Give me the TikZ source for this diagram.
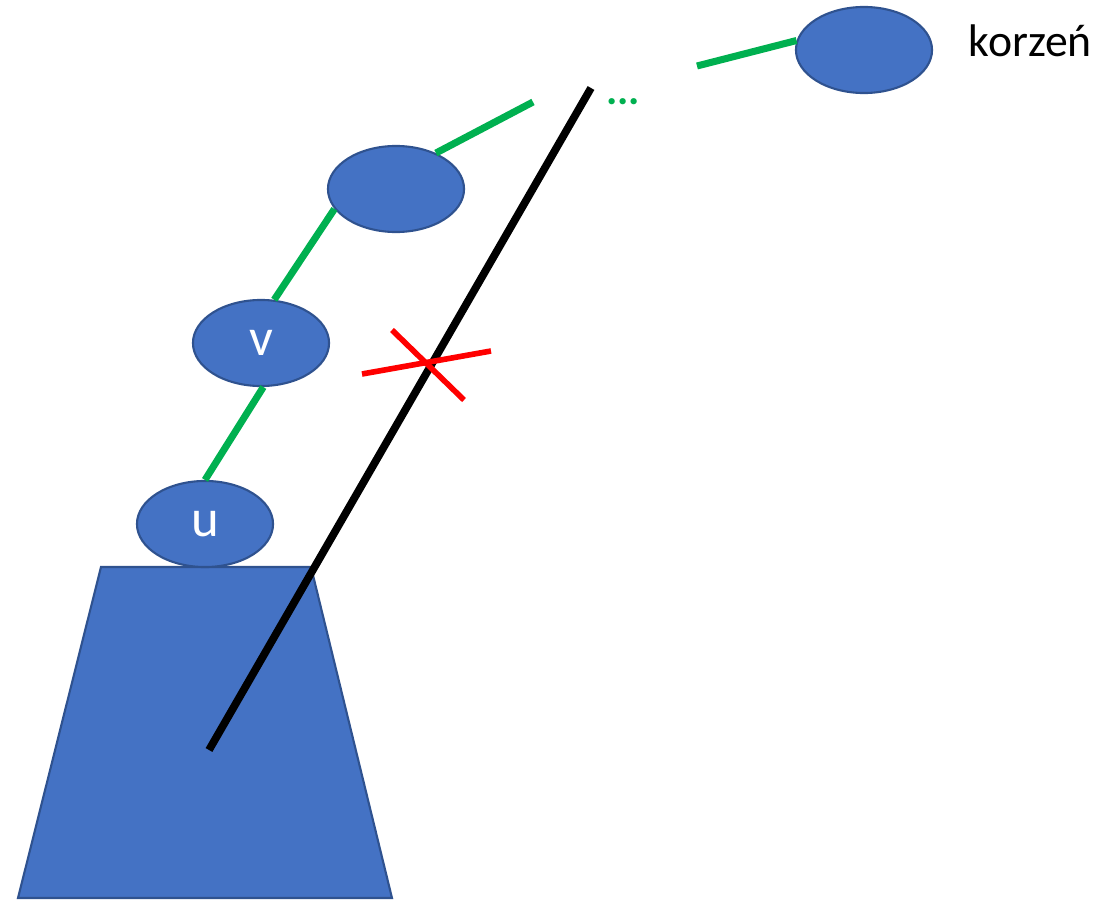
\documentclass[tikz,border=0pt]{standalone}
\usepackage{fontspec}
\setmainfont{Carlito}
\usetikzlibrary{shapes.geometric}
\definecolor{vfill}{HTML}{4472C4}
\definecolor{vline}{HTML}{2F528F}
\definecolor{pathgreen}{HTML}{00B050}

\begin{document}
\begin{tikzpicture}[x=0.01cm, y=-0.01cm,
  vert/.style={ellipse, draw=vline, line width=0.6pt, fill=vfill, minimum width=1.36cm,
               minimum height=0.86cm, inner sep=0pt, text=white, font=\fontsize{15}{18}\selectfont},
  treeline/.style={draw=pathgreen, line width=2pt},
  cutline/.style={draw=black, line width=2.2pt},
  crossline/.style={draw=red, line width=1.6pt}]
\useasboundingbox (0,0) rectangle (1118,900);

% subtree below u
\draw[fill=vfill, draw=vline, line width=0.6pt] (101,567) -- (311,567) -- (392,898) -- (18,898) -- cycle;

% path from u up to the root
\node[vert] (u) at (205,524) {u};
\node[vert] (v) at (261,343) {v};
\node[vert] (w) at (396,189) {};
\node[vert] (root) at (864,50) {};
\node[anchor=base west, inner sep=0pt, font=\fontsize{13}{16}\selectfont] (lbl) at (968,57) {korzeń};
\node[anchor=base, inner sep=0pt, text=pathgreen, font=\bfseries\fontsize{12}{14}\selectfont] (dots) at (623,104) {...};

\coordinate (wend) at (533,102);
\coordinate (rend) at (697,66);

% green tree edges
\draw[treeline] (u.north) -- (v.-87);
\draw[treeline] (v.73) -- (w.198);
\draw[treeline] (w.42) -- (wend);
\draw[treeline] (root.172) -- (rend);

% the cut and the crossed edge
\coordinate (ctop) at (591,88);
\coordinate (cbot) at (209,750);
\draw[cutline] (ctop) -- (cbot);

\coordinate (xa) at (362,374);
\coordinate (xb) at (491,351);
\coordinate (xc) at (392,330);
\coordinate (xd) at (464,400);
\draw[crossline] (xa) -- (xb);
\draw[crossline] (xc) -- (xd);
\end{tikzpicture}
\end{document}
